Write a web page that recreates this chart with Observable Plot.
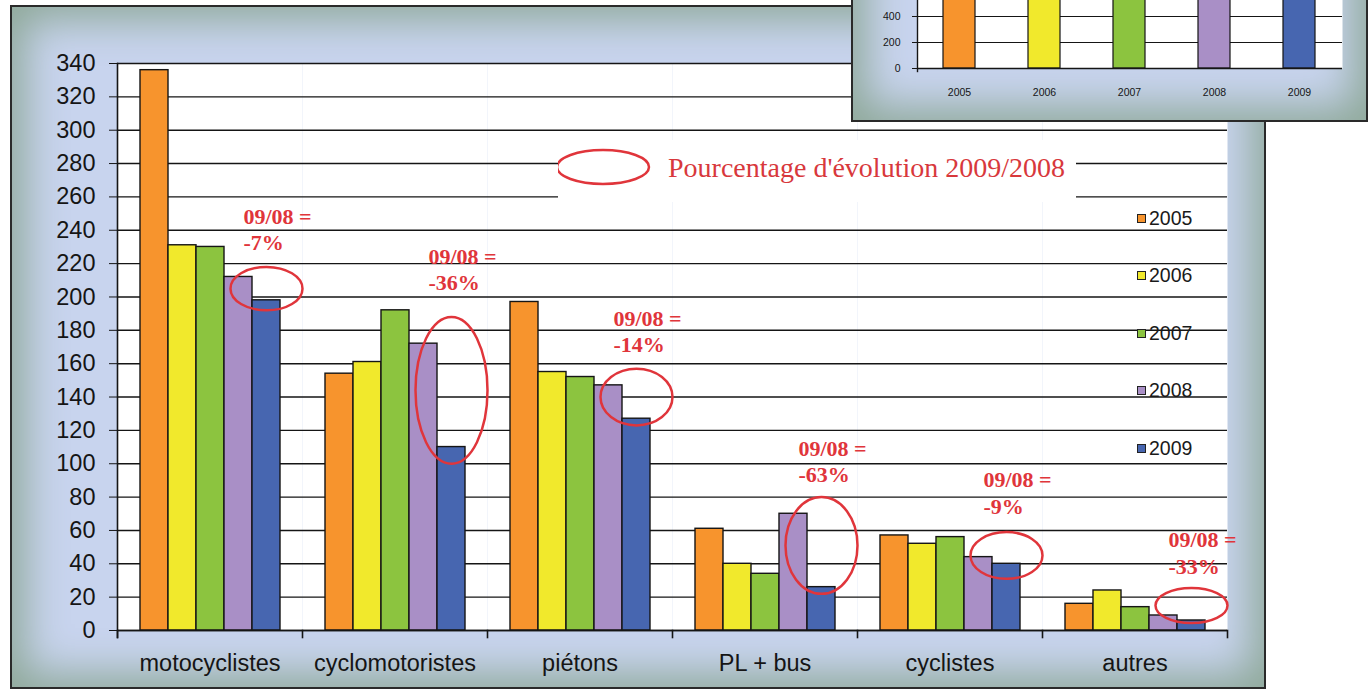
<!DOCTYPE html>
<html>
<head>
<meta charset="utf-8">
<script src="https://cdn.jsdelivr.net/npm/d3@7"></script>
<script src="https://cdn.jsdelivr.net/npm/@observablehq/plot@0.6"></script>
<style>
  html, body { margin: 0; padding: 0; background: #ffffff; }
  #wrap { position: relative; width: 1372px; height: 690px; overflow: hidden; font-family: "Liberation Sans", Arial, sans-serif; }
  .bevel { position: absolute; box-sizing: border-box; border: 2px solid #2a2a2a; background: #c8d4ee; box-shadow: inset 0 0 42px 13px #8fa99a; }
  #main-frame { left: 10px; top: 5px; width: 1256px; height: 684px; z-index: 0; }
  #main-chart { position: absolute; left: 0; top: 0; z-index: 1; }
  #evo { position: absolute; left: 558px; top: 140px; z-index: 2; }
  #year-legend { position: absolute; left: 0; top: 0; z-index: 2; }
  .lg-item { position: absolute; display: flex; align-items: center; height: 22px; font-size: 19.5px; color: #1a1a1a; font-family: "Liberation Sans", Arial, sans-serif; }
  .lg-sw { width: 7px; height: 7px; border: 1.2px solid #222; margin-right: 3px; }
  #inset-frame { left: 851px; top: -100px; width: 517px; height: 222px; z-index: 5; }
  #inset-chart { position: absolute; left: 851px; top: -100px; z-index: 6; }
</style>
</head>
<body>
<div id="wrap">
  <div id="main-frame" class="bevel"></div>
  <div id="year-legend"></div>
  <svg id="evo" width="518" height="62">
    <rect width="518" height="62" fill="white"></rect>
    <ellipse cx="45" cy="27" rx="46" ry="17" fill="none" stroke="#e0353b" stroke-width="2.5"></ellipse>
    <text x="110" y="37" font-family="Liberation Serif, Times New Roman, serif" font-size="28" fill="#d8383c">Pourcentage d'évolution 2009/2008</text>
  </svg>
  <div id="inset-frame" class="bevel"></div>
</div>
<script>
// ---------- data ----------
const categories = ["motocyclistes", "cyclomotoristes", "piétons", "PL + bus", "cyclistes", "autres"];
const years = ["2005", "2006", "2007", "2008", "2009"];
const values2005 = [336, 154, 197, 61, 57, 16];
const values2006 = [231, 161, 155, 40, 52, 24];
const values2007 = [230, 192, 152, 34, 56, 14];
const values2008 = [212, 172, 147, 70, 44, 9];
const values2009 = [198, 110, 127, 26, 40, 6];
const yearColors = ["#f7942d", "#f1e92c", "#8cc43f", "#a98fc6", "#4766b0"];
const yTicks = [0, 20, 40, 60, 80, 100, 120, 140, 160, 180, 200, 220, 240, 260, 280, 300, 320, 340];

// annotations: evolution 2009/2008
const evolutionLabels = ["-7%", "-36%", "-14%", "-63%", "-9%", "-33%"];
const labelLevels = [241, 217, 180, 102, 83, 47];        // value at the centre of each label block
const ellipseLevels = [205, 144, 140, 51, 45, 15];       // value at the centre of each ellipse
const ellipseHalfSpans = [13, 44, 17, 29, 14, 10.5];     // half height of each ellipse, in value units

// inset chart (totals per year; their upper part is cut off in the picture)
const insetTotals = [820, 660, 680, 660, 560];
const insetTicks = [0, 200, 400];

// ---------- build tables ----------
const series = [values2005, values2006, values2007, values2008, values2009];
const rows = categories.flatMap((cat, i) => years.map((year, j) => ({cat, year, value: series[j][i]})));
const annotations = categories.map((cat, i) => ({
  cat, year: "2009",
  label: "09/08 =\n" + evolutionLabels[i],
  labelY: labelLevels[i],
  ellipseY: ellipseLevels[i],
  half: ellipseHalfSpans[i]
}));
const insetRows = years.map((year, j) => ({year, total: insetTotals[j]}));

// ---------- main chart ----------
const W = 1372, H = 690, ML = 116, MR = 144, MT = 63, MB = 60;
const plotH = H - MT - MB;
const pxPerUnit = plotH / 340;
const RED = "#e0353b";
const INK = "#151515";

function ellipseSymbol(rx, ry) {
  const k = 0.5523;
  return {
    draw(c) {
      c.moveTo(rx, 0);
      c.bezierCurveTo(rx, ry * k, rx * k, ry, 0, ry);
      c.bezierCurveTo(-rx * k, ry, -rx, ry * k, -rx, 0);
      c.bezierCurveTo(-rx, -ry * k, -rx * k, -ry, 0, -ry);
      c.bezierCurveTo(rx * k, -ry, rx, -ry * k, rx, 0);
      c.closePath();
    }
  };
}

const chart = Plot.plot({
  width: W, height: H,
  marginLeft: ML, marginRight: MR, marginTop: MT, marginBottom: MB,
  style: {background: "transparent", fontFamily: "Liberation Sans, Arial, sans-serif", color: INK, overflow: "visible"},
  fx: {domain: categories, padding: 0, label: null},
  x: {domain: years, paddingInner: 0, paddingOuter: 0.75, axis: null},
  y: {domain: [0, 340], label: null},
  color: {domain: years, range: yearColors},
  marks: [
    Plot.frame({fill: "white", stroke: "none"}),
    Plot.ruleY(yTicks, {stroke: INK, strokeWidth: 1.4}),
    Plot.barY(rows, {fx: "cat", x: "year", y: "value", fill: "year", stroke: INK, strokeWidth: 1.4}),
    Plot.ruleY([0], {stroke: INK, strokeWidth: 1.6}),
    Plot.frame({anchor: "left", facetAnchor: "left", insetBottom: -7, stroke: INK, strokeWidth: 1.6}),
    Plot.frame({anchor: "left", insetTop: plotH, insetBottom: -7, stroke: INK, strokeWidth: 1.6}),
    Plot.frame({anchor: "right", facetAnchor: "right", insetTop: plotH, insetBottom: -7, stroke: INK, strokeWidth: 1.6}),
    Plot.axisY({ticks: yTicks, tickSize: 8, tickPadding: 14, fontSize: 23.5, label: null, anchor: "left"}),
    Plot.axisFx({anchor: "bottom", tickSize: 0, tickPadding: 24, fontSize: 23.5, label: null}),
    Plot.text(annotations, {
      fx: "cat", x: "year", y: "labelY", text: "label",
      textAnchor: "start", dx: -23, lineAnchor: "middle", lineHeight: 1.2,
      fontFamily: "Liberation Serif, Times New Roman, serif", fontWeight: "bold", fontSize: 22, fill: RED
    }),
    ...annotations.map(a => Plot.dot([a], {
      fx: "cat", x: "year", y: "ellipseY",
      symbol: ellipseSymbol(36, a.half * pxPerUnit),
      stroke: RED, strokeWidth: 2.5, fill: "none"
    }))
  ]
});
chart.id = "main-chart";
document.getElementById("wrap").appendChild(chart);

// ---------- year legend ----------
const legend = document.getElementById("year-legend");
years.forEach((year, j) => {
  const item = document.createElement("div");
  item.className = "lg-item";
  item.style.left = "1137px";
  item.style.top = (207 + j * 57.5) + "px";
  const sw = document.createElement("span");
  sw.className = "lg-sw";
  sw.style.background = yearColors[j];
  item.appendChild(sw);
  item.appendChild(document.createTextNode(year));
  legend.appendChild(item);
});

// ---------- inset chart ----------
const inset = Plot.plot({
  width: 517, height: 221,
  marginLeft: 66, marginRight: 26, marginTop: 38, marginBottom: 53,
  style: {background: "transparent", fontFamily: "Liberation Sans, Arial, sans-serif", color: INK, overflow: "visible"},
  x: {domain: years, paddingInner: 0.62, paddingOuter: 0.31, label: null},
  y: {domain: [0, 1000], label: null},
  color: {domain: years, range: yearColors},
  marks: [
    Plot.frame({fill: "white", stroke: "none"}),
    Plot.ruleY(insetTicks, {stroke: INK, strokeWidth: 1.2}),
    Plot.barY(insetRows, {x: "year", y: "total", fill: "year", stroke: INK, strokeWidth: 1.2}),
    Plot.ruleY([0], {stroke: INK, strokeWidth: 1.4}),
    Plot.frame({anchor: "left", insetBottom: -3, stroke: INK, strokeWidth: 1.4}),
    Plot.axisY({ticks: insetTicks, tickSize: 5, tickPadding: 12, fontSize: 10.5, label: null}),
    Plot.axisX({tickSize: 0, tickPadding: 20, fontSize: 10.5, label: null})
  ]
});
inset.id = "inset-chart";
document.getElementById("wrap").appendChild(inset);
</script>
</body>
</html>
